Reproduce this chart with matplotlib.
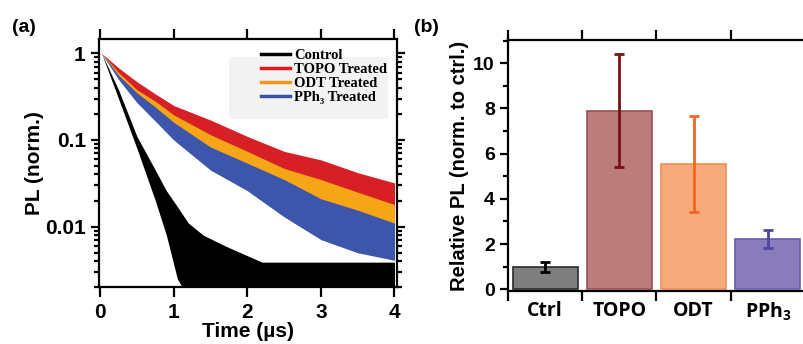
import numpy as np
import matplotlib
matplotlib.use('Agg')
import matplotlib.pyplot as plt
from matplotlib.lines import Line2D
from matplotlib.patches import Rectangle
from matplotlib.ticker import FixedLocator, LogLocator, NullFormatter, MultipleLocator

plt.rcParams['font.family'] = ['Liberation Sans', 'DejaVu Sans']
plt.rcParams['font.weight'] = 'bold'
plt.rcParams['axes.linewidth'] = 1.6
plt.rcParams['mathtext.fontset'] = 'custom'
plt.rcParams['mathtext.rm'] = 'Open Sans:bold'
plt.rcParams['mathtext.it'] = 'Open Sans:bold'
plt.rcParams['mathtext.bf'] = 'Open Sans:bold'

# ---- panel (a): PL decay envelopes (upper / lower edge of the noisy traces)
t_pts = [0.02, 0.25, 0.5, 0.75, 1.0, 1.5, 2.0, 2.5, 3.0, 3.5, 4.0]
topo_hi = [1.0, 0.68, 0.47, 0.34, 0.25, 0.17, 0.11, 0.074, 0.059, 0.042, 0.032]
topo_lo = [1.0, 0.55, 0.33, 0.24, 0.16, 0.095, 0.060, 0.038, 0.028, 0.020, 0.014]
odt_hi = [1.0, 0.60, 0.38, 0.28, 0.195, 0.115, 0.074, 0.047, 0.035, 0.025, 0.018]
odt_lo = [1.0, 0.52, 0.30, 0.20, 0.13, 0.070, 0.045, 0.028, 0.017, 0.012, 0.009]
pph3_hi = [1.0, 0.56, 0.35, 0.24, 0.16, 0.083, 0.054, 0.035, 0.021, 0.0155, 0.011]
pph3_lo = [1.0, 0.50, 0.27, 0.165, 0.10, 0.045, 0.026, 0.013, 0.0071, 0.005, 0.0041]

t_ctrl = [0.02, 0.25, 0.5, 0.75, 0.9, 1.05, 1.2, 1.4, 1.7, 2.2, 4.0]
ctrl_hi = [1.0, 0.38, 0.11, 0.045, 0.026, 0.017, 0.011, 0.008, 0.006, 0.0039, 0.0039]
ctrl_lo = [1.0, 0.30, 0.08, 0.02, 0.008, 0.0025, 0.0015, 0.0015, 0.0015, 0.0015, 0.0015]

legend_labels = ['Control', 'TOPO Treated', 'ODT Treated', 'PPh\u2083 Treated']

# ---- panel (b): relative PL
cats = ['Ctrl', 'TOPO', 'ODT', r'PPh$_3$']
rel_pl = [1.0, 7.9, 5.53, 2.23]
rel_err = [0.22, 2.5, 2.12, 0.4]

fig = plt.figure(figsize=(8.04, 3.44), dpi=100)

ax1 = fig.add_axes([99 / 804, 1 - 287.3 / 344, 297.7 / 804, 248 / 344])
ax1.fill_between(t_pts, topo_hi, topo_lo, color='#d71f26', lw=0)
ax1.fill_between(t_pts, odt_hi, odt_lo, color='#f6a516', lw=0)
ax1.fill_between(t_pts, pph3_hi, pph3_lo, color='#3d56ab', lw=0)
ax1.fill_between(t_ctrl, ctrl_hi, ctrl_lo, color='black', lw=0)
ax1.set_yscale('log')
ax1.set_xlim(-0.015, 4.03)
ax1.set_ylim(0.002, 1.45)
ax1.set_xticks([0, 1, 2, 3, 4])
ax1.yaxis.set_major_locator(FixedLocator([0.01, 0.1, 1]))
ax1.set_yticklabels(['0.01', '0.1', '1'])
ax1.yaxis.set_minor_locator(LogLocator(base=10, subs=np.arange(2, 10)))
ax1.yaxis.set_minor_formatter(NullFormatter())
ax1.tick_params(which='both', direction='out', width=1.6, labelsize=15,
                top=True, right=True, bottom=True, left=True)
ax1.tick_params(which='major', length=6)
ax1.tick_params(which='minor', length=3.5)
ax1.tick_params(axis='x', which='major', length=7, pad=4)
ax1.set_xlabel('Time (\u00b5s)', fontsize=15, fontweight='bold', labelpad=0)
ax1.set_ylabel('PL (norm.)', fontsize=15, fontweight='bold', labelpad=1)

ax1.add_patch(Rectangle((0.437, 0.679), 0.534, 0.25, transform=ax1.transAxes,
                        color='#f3f3f3', lw=0, zorder=1.5))
handles = [Line2D([], [], color=c, lw=2.5) for c in ['black', '#e31a1c', '#f7941d', '#3953a4']]
ax1.legend(handles, legend_labels, loc='upper right', bbox_to_anchor=(1.003, 1.003),
           frameon=False, handlelength=2.0, handletextpad=0.3, labelspacing=0.05,
           borderpad=0.2, prop={'family': ['Liberation Serif', 'DejaVu Serif'],
                                'weight': 'bold', 'size': 10.5})

ax2 = fig.add_axes([508 / 804, 1 - 291 / 344, 297 / 804, 251 / 344])
x = np.arange(len(cats))
bar_colors = ['#7f7f7f', '#bb7c7c', '#f7aa7b', '#8a7bbb']
edge_colors = ['#2a2a2a', '#9c4f52', '#f08c55', '#6a5cab']
err_colors = ['black', '#7a1015', '#f26522', '#4a47a3']
ax2.bar(x, rel_pl, width=0.875, color=bar_colors, edgecolor=edge_colors, linewidth=1.2)
for xi, v, e, c in zip(x, rel_pl, rel_err, err_colors):
    ax2.errorbar(xi, v, yerr=e, color=c, elinewidth=2, capsize=3.5, capthick=2)
ax2.set_xlim(-0.5, 3.5)
ax2.set_ylim(-0.075, 11.03)
ax2.spines['right'].set_visible(False)
ax2.set_xticks([-0.5, 0.5, 1.5, 2.5])
ax2.set_xticklabels([])
ax2.set_xticks(x, minor=True)
ax2.set_xticklabels(cats, minor=True, fontsize=16, fontweight='bold',
                    family=['Open Sans', 'DejaVu Sans'])
ax2.yaxis.set_major_locator(MultipleLocator(2))
ax2.yaxis.set_minor_locator(MultipleLocator(1))
ax2.tick_params(which='both', direction='out', width=1.6, labelsize=14)
ax2.tick_params(axis='x', which='major', top=True, bottom=True, length=7)
ax2.tick_params(axis='x', which='minor', top=False, length=0, pad=7)
ax2.tick_params(axis='y', which='major', length=6)
ax2.tick_params(axis='y', which='minor', length=3.5)
ax2.set_ylabel('Relative PL (norm. to ctrl.)', fontsize=14.5, fontweight='bold', labelpad=3)

fig.text(12 / 804, 1 - 32 / 344, '(a)', fontsize=14, fontweight='bold')
fig.text(414 / 804, 1 - 32 / 344, '(b)', fontsize=14, fontweight='bold')

fig.savefig('out.png', dpi=100)
